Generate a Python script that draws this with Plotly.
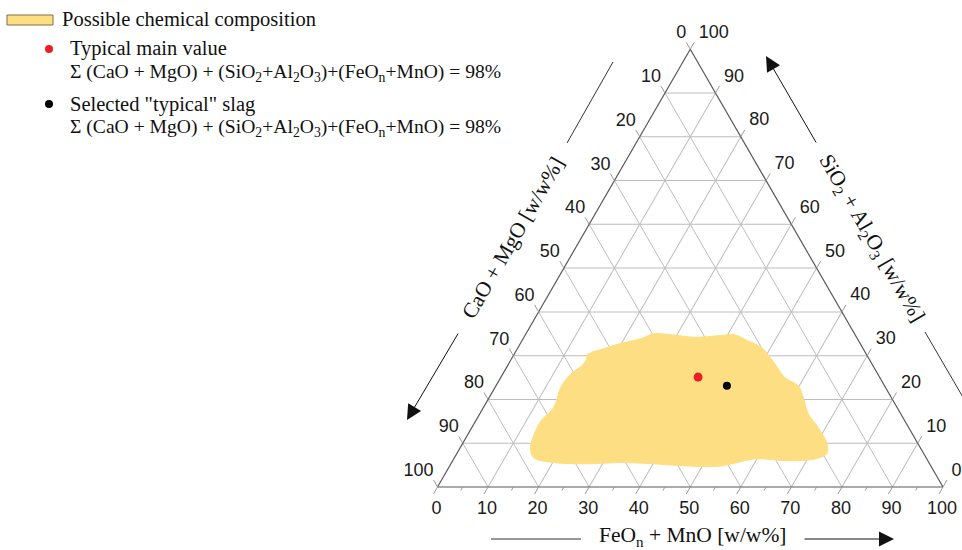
import math
import plotly.graph_objects as go

W, H = 962, 550

# ---------------- data (w/w%) ----------------
tick_values = [0, 10, 20, 30, 40, 50, 60, 70, 80, 90, 100]
grid_values = [10, 20, 30, 40, 50, 60, 70, 80, 90]
minor_values = [5, 15, 25, 35, 45, 55, 65, 75, 85, 95]

# Possible chemical composition region (outline)
region_sio2 = [30.8, 31.2, 32.8, 33.9, 35.0, 34.8, 34.2, 34.6, 34.8, 33.4, 31.9, 28.2, 25.0,
               23.1, 20.5, 16.7, 13.6, 9.9, 7.6, 6.4, 6.0, 6.4, 4.8, 4.8, 5.3, 5.6, 5.3,
               5.6, 6.7, 9.0, 12.8, 15.1, 18.2, 22.8, 25.9, 28.2, 30.5]
region_cao = [54.2, 52.7, 47.3, 42.8, 39.7, 36.4, 32.1, 26.6, 23.9, 21.9, 20.0, 19.2, 18.8,
              17.1, 17.4, 18.3, 17.9, 18.0, 19.2, 22.2, 27.6, 34.1, 41.5, 48.1, 54.5, 60.9, 67.7,
              74.2, 77.6, 77.1, 74.2, 72.0, 67.9, 64.2, 60.6, 56.9, 55.0]
region_feo = [15.0, 16.1, 19.9, 23.3, 25.3, 28.8, 33.7, 38.8, 41.3, 44.7, 48.1, 52.6, 56.2,
              59.8, 62.1, 65.0, 68.5, 72.1, 73.2, 71.4, 66.4, 59.5, 53.7, 47.1, 40.2, 33.5, 27.0,
              20.2, 15.7, 13.9, 13.0, 12.9, 13.9, 13.0, 13.5, 14.9, 14.5]

typical_sio2 = [25.1]
typical_cao = [35.9]
typical_feo = [39.0]

slag_sio2 = [23.1]
slag_cao = [31.2]
slag_feo = [45.7]

# ---------------- styling / layout constants ----------------
YELLOW = "#FEDE83"
GRID = "#bdbdbd"
EDGE = "#585858"
TICK = "#9a9a9a"
SANS = "Liberation Sans, Arial, sans-serif"
SERIF = "Liberation Serif, Times New Roman, serif"

SCALE = 5.055            # px per 1 w/w% along an edge
X0, Y0 = 437.5, 487.0    # bottom-left corner of the triangle (px)
SQ = math.sqrt(3) / 2

# outer "annotation" ternaries: same composition scale, extended a little beyond
# the triangle so ticks and labels are placed by the ternary scale itself
LB = (3.3, 1.0, 3.0)     # extension (SiO2, CaO, FeO) for left/bottom ticks
RT = (0.0, 3.6, 0.2)     # extension for right ticks

# label offsets (d_sio2, d_cao, d_feo) and tick lengths, in w/w%
LEFT_OFF = (3.54, -0.98, -2.56)
RIGHT_OFF = (3.65, -3.50, -0.15)
BOTTOM_OFF = (-3.19, 1.79, 1.40)
T_MAJ = 1.6
T_MIN = 0.8


def px(x):
    return x / W


def py(y):
    return 1 - y / H


def ternary_domain(k):
    ka, kb, kc = k
    s = 100 + ka + kb + kc
    x_bl = X0 + (-kc - ka / 2) * SCALE
    y_bl = Y0 + ka * SCALE * SQ
    return dict(x=[px(x_bl), px(x_bl + s * SCALE)],
                y=[py(y_bl), py(y_bl - s * SCALE * SQ)])


fig = go.Figure()

# ---- data on the main ternary ----
fig.add_trace(go.Scatterternary(
    a=region_sio2, b=region_cao, c=region_feo, mode="lines", fill="toself",
    fillcolor=YELLOW, line=dict(color=YELLOW, width=1, shape="spline", smoothing=1.0),
    hoverinfo="skip", showlegend=False, name="Possible chemical composition"))
fig.add_trace(go.Scatterternary(
    a=typical_sio2, b=typical_cao, c=typical_feo, mode="markers",
    marker=dict(color="#EE1C25", size=9), showlegend=False, name="Typical main value"))
fig.add_trace(go.Scatterternary(
    a=slag_sio2, b=slag_cao, c=slag_feo, mode="markers",
    marker=dict(color="#000000", size=8), showlegend=False, name="Selected typical slag"))


# ---- ticks and labels on the outer ternaries ----
def shift(pts, k):
    return ([None if p is None else p[0] + k[0] for p in pts],
            [None if p is None else p[1] + k[1] for p in pts],
            [None if p is None else p[2] + k[2] for p in pts])


def tick_trace(starts, ends, k, subplot):
    pts = []
    for s, e in zip(starts, ends):
        pts += [s, e, None]
    a, b, c = shift(pts, k)
    return go.Scatterternary(
        subplot=subplot, a=a, b=b, c=c, mode="lines", cliponaxis=False,
        line=dict(color=TICK, width=1), hoverinfo="skip", showlegend=False)


def label_trace(pts, pos, k, subplot):
    a, b, c = shift(pts, k)
    return go.Scatterternary(
        subplot=subplot, a=a, b=b, c=c, mode="text",
        text=[str(v) for v in tick_values], textposition=pos, cliponaxis=False,
        hoverinfo="skip", showlegend=False,
        textfont=dict(family=SANS, size=18, color="#1a1a1a"))


# left edge: CaO + MgO
fig.add_trace(tick_trace([(100 - v, v, 0) for v in tick_values],
                         [(100 - v + T_MAJ, v, -T_MAJ) for v in tick_values], LB, "ternary2"))
fig.add_trace(label_trace([(100 - v + LEFT_OFF[0], v + LEFT_OFF[1], LEFT_OFF[2])
                           for v in tick_values], "middle left", LB, "ternary2"))
# bottom edge: FeOn + MnO
fig.add_trace(tick_trace([(0, 100 - v, v) for v in tick_values],
                         [(-T_MAJ, 100 - v + T_MAJ, v) for v in tick_values], LB, "ternary2"))
fig.add_trace(tick_trace([(0, 100 - v, v) for v in minor_values],
                         [(-T_MIN, 100 - v + T_MIN, v) for v in minor_values], LB, "ternary2"))
fig.add_trace(label_trace([(BOTTOM_OFF[0], 100 - v + BOTTOM_OFF[1], v + BOTTOM_OFF[2])
                           for v in tick_values], "bottom center", LB, "ternary2"))
# right edge: SiO2 + Al2O3
fig.add_trace(tick_trace([(v, 0, 100 - v) for v in tick_values],
                         [(v + T_MAJ, -T_MAJ, 100 - v) for v in tick_values], RT, "ternary3"))
fig.add_trace(label_trace([(v + RIGHT_OFF[0], RIGHT_OFF[1], 100 - v + RIGHT_OFF[2])
                           for v in tick_values], "middle right", RT, "ternary3"))

main_axis = dict(tickmode="array", tickvals=grid_values, ticks="", showticklabels=False,
                 showgrid=True, gridcolor=GRID, gridwidth=1, showline=True,
                 linecolor=EDGE, linewidth=1.2, title=dict(text=""))
hidden_axis = dict(ticks="", showticklabels=False, showgrid=False, showline=False,
                   title=dict(text=""))


def outer_ternary(k):
    return dict(sum=100 + sum(k), bgcolor="rgba(0,0,0,0)", domain=ternary_domain(k),
                aaxis=hidden_axis, baxis=hidden_axis, caxis=hidden_axis)


shapes = [
    # legend swatch and symbols
    dict(type="rect", xref="paper", yref="paper", x0=px(7), x1=px(53), y0=py(25), y1=py(15),
         fillcolor=YELLOW, line=dict(color="#7d7148", width=1)),
    dict(type="circle", xref="paper", yref="paper", x0=px(45), x1=px(53), y0=py(53), y1=py(45),
         fillcolor="#EE1C25", line=dict(width=0)),
    dict(type="circle", xref="paper", yref="paper", x0=px(45), x1=px(53), y0=py(108), y1=py(100),
         fillcolor="#000000", line=dict(width=0)),
    # axis title guide lines
    dict(type="line", xref="paper", yref="paper", x0=px(613), y0=py(62), x1=px(567), y1=py(143),
         line=dict(color="#333", width=1)),
    dict(type="line", xref="paper", yref="paper", x0=px(925), y0=py(332), x1=px(964), y1=py(399),
         line=dict(color="#333", width=1)),
    dict(type="line", xref="paper", yref="paper", x0=px(491), y0=py(539), x1=px(581), y1=py(539),
         line=dict(color="#333", width=1)),
]

sigma = "Σ (CaO + MgO) + (SiO<sub>2</sub>+Al<sub>2</sub>O<sub>3</sub>)+(FeO<sub>n</sub>+MnO) = 98%"
leg_font = dict(family=SERIF, size=20.5, color="#111")
sig_font = dict(family=SERIF, size=19.6, color="#111")
title_font = dict(family=SERIF, size=21.5, color="#111")

annotations = []
for x, y, t, f in [(60, 19, "Possible chemical composition", leg_font),
                   (68, 48, "Typical main value", leg_font),
                   (68, 73, sigma, sig_font),
                   (68, 104, 'Selected "typical" slag', leg_font),
                   (68, 128, sigma, sig_font)]:
    annotations.append(dict(x=px(x), y=py(y), text=t, xref="paper", yref="paper",
                            xanchor="left", yanchor="middle", showarrow=False, font=f))

for x, y, t, ang in [(513, 238, "CaO + MgO [w/w%]", -60),
                     (871, 238, "SiO<sub>2</sub> + Al<sub>2</sub>O<sub>3</sub> [w/w%]", 60),
                     (692, 536, "FeO<sub>n</sub> + MnO [w/w%]", 0)]:
    annotations.append(dict(x=px(x), y=py(y), text=t, textangle=ang, xref="paper", yref="paper",
                            xanchor="center", yanchor="middle", showarrow=False, font=title_font))

# arrows
for tip, tail in [((407, 420), (459, 332)), ((766, 56), (817, 144)), ((894, 539), (803, 539))]:
    annotations.append(dict(x=px(tip[0]), y=py(tip[1]), xref="paper", yref="paper",
                            ax=tail[0] - tip[0], ay=tail[1] - tip[1], text="",
                            showarrow=True, arrowhead=2, arrowsize=3, arrowwidth=1,
                            arrowcolor="#111"))

fig.update_layout(
    width=W, height=H, margin=dict(l=0, r=0, t=0, b=0),
    paper_bgcolor="white", plot_bgcolor="white", showlegend=False,
    ternary=dict(sum=100, bgcolor="white", domain=ternary_domain((0, 0, 0)),
                 aaxis=main_axis, baxis=main_axis, caxis=main_axis),
    ternary2=outer_ternary(LB),
    ternary3=outer_ternary(RT),
    shapes=shapes, annotations=annotations,
)

fig.write_html(
    "out.html",
    config={"displayModeBar": False},
    post_script="document.body.style.margin='0';document.body.style.overflow='hidden';",
)
